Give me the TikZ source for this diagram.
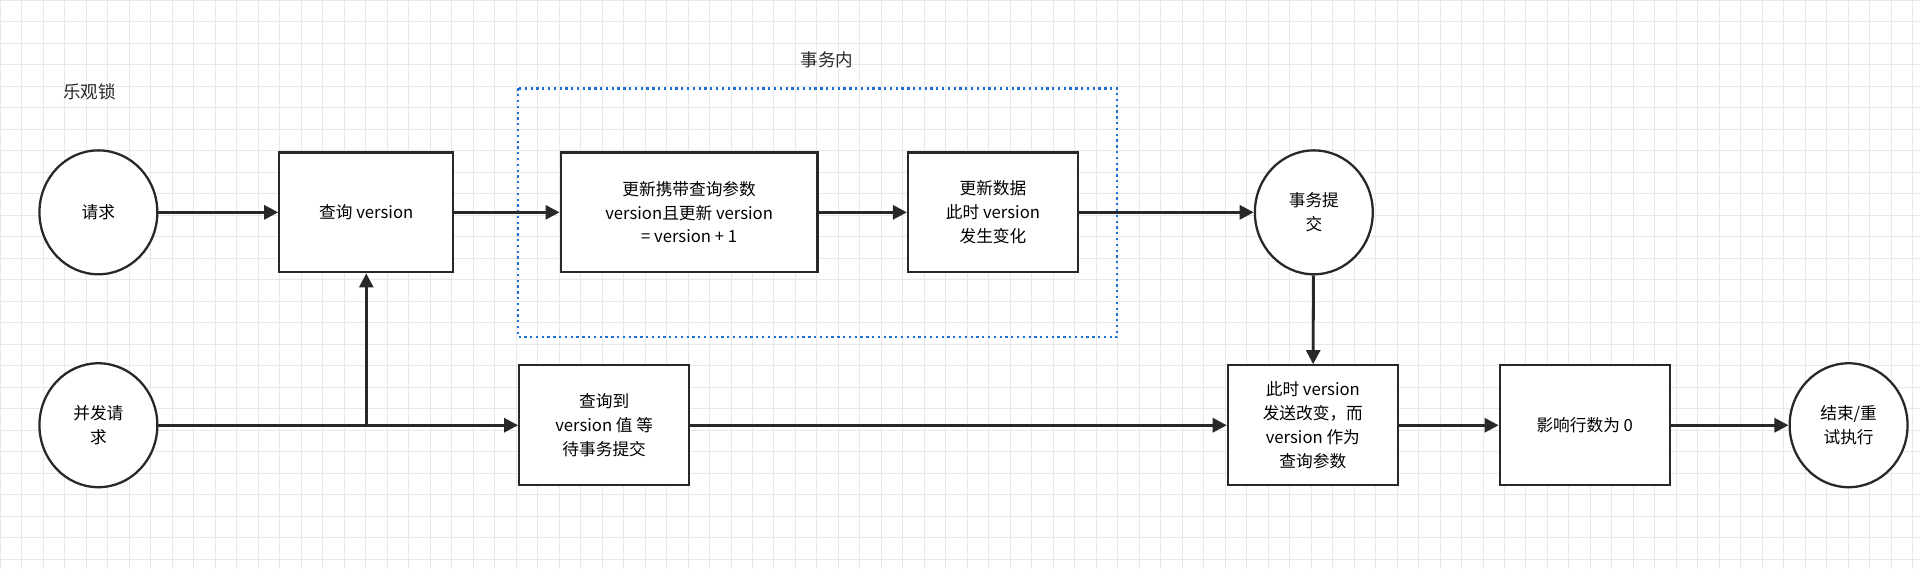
\documentclass[tikz,border=0pt]{standalone}
\usepackage{fontspec}
\setmainfont{Noto Sans CJK SC}
\usepackage{xcolor}
\definecolor{line-800}{RGB}{40,40,40}
\definecolor{grid-200}{RGB}{232,232,232}
\definecolor{blue-600}{RGB}{30,110,215}
\usetikzlibrary{arrows.meta,positioning,shapes.geometric}

\tikzset{
    proc/.style={draw=line-800, line width=1.3pt, fill=white, minimum width=3.4cm, minimum height=2.4cm, align=center, inner sep=2pt},
    term/.style={draw=line-800, line width=1.3pt, fill=white, ellipse, minimum width=2.36cm, minimum height=2.48cm, align=center, inner sep=0pt},
    flow/.style={draw=line-800, line width=1.6pt, -{Triangle[length=8pt,width=8pt]}}
}

\begin{document}
\begin{tikzpicture}[x=0.02cm, y=-0.02cm, font=\fontsize{9.5}{13.5}\selectfont]

% Background and grid
\fill[white] (0,0) rectangle (1920,569);
\draw[grid-200, line width=0.5pt, step=0.43cm] (0,0) grid (1920,569);
\useasboundingbox (0,0) rectangle (1920,569);

% Labels
\node[font=\fontsize{10}{12}\selectfont, text=line-800] (title) at (89,91) {乐观锁};
\node[font=\fontsize{10}{12}\selectfont, text=line-800] (txlabel) at (827,59) {事务内};

% Transaction frame
\draw[blue-600, line width=1.3pt, dotted] (518,88) rectangle (1117,337);

% Upper row
\node[term] (req) at (98,212) {请求};
\node[proc, minimum width=3.48cm] (query) at (366,212) {查询 version};
\node[proc, minimum width=5.14cm] (update) at (689,212) {更新携带查询参数\\version且更新 version\\= version + 1};
\node[proc] (changed) at (993,212) {更新数据\\此时 version\\发生变化};
\node[term] (commit) at (1314,212) {事务提\\交};

% Lower row
\node[term] (conc) at (98,425) {并发请\\求};
\node[proc] (wait) at (604,425) {查询到\\version 值 等\\待事务提交};
\node[proc] (stale) at (1313,425) {此时 version\\发送改变，而\\version 作为\\查询参数};
\node[proc] (rows) at (1585,425) {影响行数为 0};
\node[term] (done) at (1849,425) {结束/重\\试执行};

% Junction
\coordinate (split) at (query.south |- conc.east);

% Connectors
\draw[flow] (req) -- (query);
\draw[flow] (query) -- (update);
\draw[flow] (update) -- (changed);
\draw[flow] (changed) -- (commit);
\draw[flow] (commit) -- (stale);
\draw[line-800, line width=1.6pt] (conc) -- (split);
\draw[flow] (split) -- (query);
\draw[flow] (split) -- (wait);
\draw[flow] (wait) -- (stale);
\draw[flow] (stale) -- (rows);
\draw[flow] (rows) -- (done);

\end{tikzpicture}
\end{document}
